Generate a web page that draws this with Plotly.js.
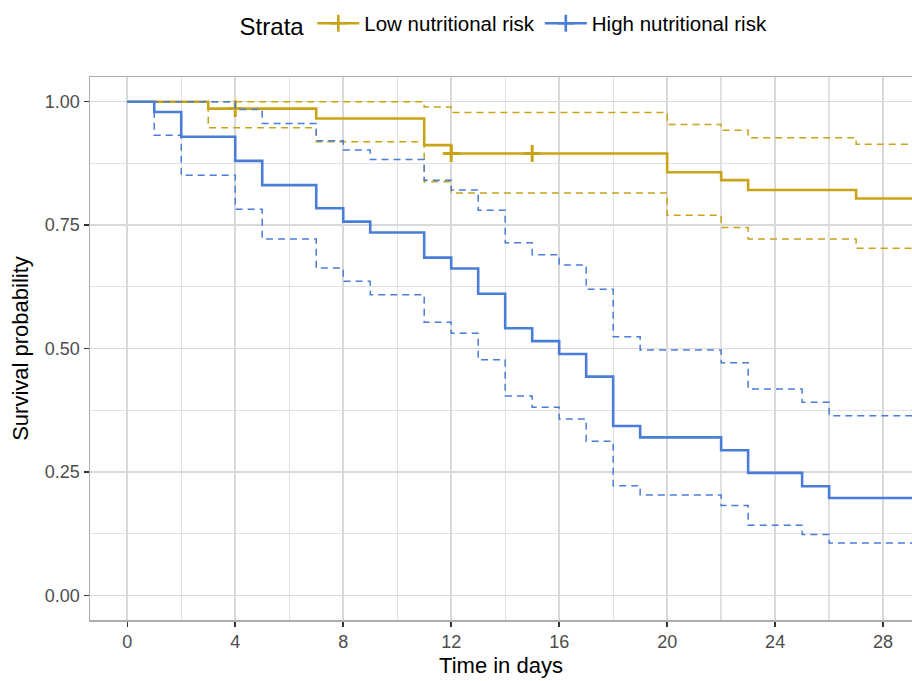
<!DOCTYPE html>
<html>
<head>
<meta charset="utf-8">
<script src="https://cdn.plot.ly/plotly-3.0.1.min.js"></script>
<style>html,body{margin:0;padding:0;background:#fff;}#chart{width:912px;height:681px;}</style>
</head>
<body>
<div id="chart"></div>
<script>
// ---- data ----
const strataNames = ["Low nutritional risk", "High nutritional risk"];

const timeLow  = [0, 3, 7, 11, 12, 20, 22, 23, 27, 30];
const survLow  = [1, 0.986, 0.966, 0.912, 0.895, 0.857, 0.841, 0.821, 0.804, 0.804];
const upperLow = [1, 1, 1, 0.989, 0.978, 0.954, 0.942, 0.927, 0.914, 0.914];
const lowerLow = [1, 0.947, 0.919, 0.838, 0.815, 0.770, 0.745, 0.722, 0.703, 0.703];
const censorLow = [4, 12, 15];

const timeHigh  = [0, 1, 2, 4, 5, 7, 8, 9, 11, 12, 13, 14, 15, 16, 17, 18, 19, 22, 23, 25, 26, 30];
const survHigh  = [1, 0.979, 0.929, 0.880, 0.831, 0.784, 0.757, 0.735, 0.684, 0.662, 0.611, 0.541, 0.515, 0.489, 0.443, 0.343, 0.320, 0.294, 0.248, 0.221, 0.197, 0.197];
const upperHigh = [1, 1, 1, 0.984, 0.956, 0.921, 0.902, 0.883, 0.841, 0.821, 0.780, 0.714, 0.690, 0.669, 0.620, 0.524, 0.497, 0.471, 0.418, 0.391, 0.364, 0.364];
const lowerHigh = [1, 0.932, 0.851, 0.782, 0.722, 0.663, 0.636, 0.609, 0.553, 0.531, 0.477, 0.404, 0.381, 0.357, 0.312, 0.222, 0.203, 0.182, 0.142, 0.123, 0.106, 0.106];
const censorHigh = [];

const xTicks = [0, 4, 8, 12, 16, 20, 24, 28];
const yTicks = [0, 0.25, 0.5, 0.75, 1];
const yTickLabels = ["0.00", "0.25", "0.50", "0.75", "1.00"];

// ---- styling ----
const colLow = "#C9A318";
const colHigh = "#497DD7";
const FONT = "Liberation Sans, Arial, sans-serif";

function stepAt(times, vals, t) {
  let v = vals[0];
  for (let i = 0; i < times.length; i++) { if (times[i] <= t) v = vals[i]; }
  return v;
}

function groupTraces(name, times, surv, up, lo, cens, col) {
  const tr = [];
  const dashed = {shape: "hv", color: col, width: 1.5, dash: "7px,5px"};
  tr.push({x: times, y: up, mode: "lines", line: dashed, showlegend: false, hoverinfo: "skip"});
  tr.push({x: times, y: lo, mode: "lines", line: dashed, showlegend: false, hoverinfo: "skip"});
  tr.push({x: times, y: surv, mode: "lines", line: {shape: "hv", color: col, width: 2.6}, showlegend: false});
  if (cens.length) {
    tr.push({x: cens, y: cens.map(t => stepAt(times, surv, t)), mode: "markers",
      marker: {symbol: "cross-thin", size: 12, line: {color: col, width: 3}, color: col}, showlegend: false});
  }
  tr.push({x: [null], y: [null], mode: "lines+markers", name: name,
    line: {color: col, width: 2.6}, marker: {symbol: "cross-thin", size: 12, line: {color: col, width: 2.6}, color: col}});
  return tr;
}

const data = [].concat(
  groupTraces(strataNames[0], timeLow, survLow, upperLow, lowerLow, censorLow, colLow),
  groupTraces(strataNames[1], timeHigh, survHigh, upperHigh, lowerHigh, censorHigh, colHigh)
);

const layout = {
  width: 912, height: 681,
  margin: {l: 90, r: 0, t: 77, b: 61},
  paper_bgcolor: "#fff", plot_bgcolor: "#fff",
  font: {family: FONT, color: "#000"},
  showlegend: true,
  legend: {
    orientation: "h", x: 0.505, xanchor: "center", y: 0.995, yref: "container", yanchor: "top",
    title: {text: "Strata", side: "left", font: {size: 24, color: "#000"}},
    font: {size: 20.5, color: "#000"}, itemwidth: 42, tracegroupgap: 0
  },
  xaxis: {
    range: [-1.38, 29.07], tickvals: xTicks, ticktext: xTicks.map(String),
    title: {text: "Time in days", font: {size: 22, color: "#000"}, standoff: 6},
    tickfont: {size: 18, color: "#4D4D4D"},
    ticks: "outside", ticklen: 5, tickwidth: 1.5, tickcolor: "#333",
    showgrid: true, gridcolor: "#D9D9D9", gridwidth: 1.6,
    minor: {dtick: 2, tick0: 0, showgrid: true, gridcolor: "#E1E1E1", gridwidth: 1.3, ticks: ""},
    showline: true, mirror: true, linecolor: "#ADADAD", linewidth: 1.5,
    zeroline: false, fixedrange: true
  },
  yaxis: {
    range: [-0.05, 1.05], tickvals: yTicks, ticktext: yTickLabels,
    title: {text: "Survival probability", font: {size: 22, color: "#000"}, standoff: 10},
    tickfont: {size: 18, color: "#4D4D4D"},
    ticks: "outside", ticklen: 5, tickwidth: 1.5, tickcolor: "#333",
    showgrid: true, gridcolor: "#D9D9D9", gridwidth: 1.6,
    minor: {dtick: 0.125, tick0: 0, showgrid: true, gridcolor: "#E1E1E1", gridwidth: 1.3, ticks: ""},
    showline: true, mirror: true, linecolor: "#ADADAD", linewidth: 1.5,
    zeroline: false, fixedrange: true
  }
};

Plotly.newPlot("chart", data, layout, {displayModeBar: false, staticPlot: true});
</script>
</body>
</html>
